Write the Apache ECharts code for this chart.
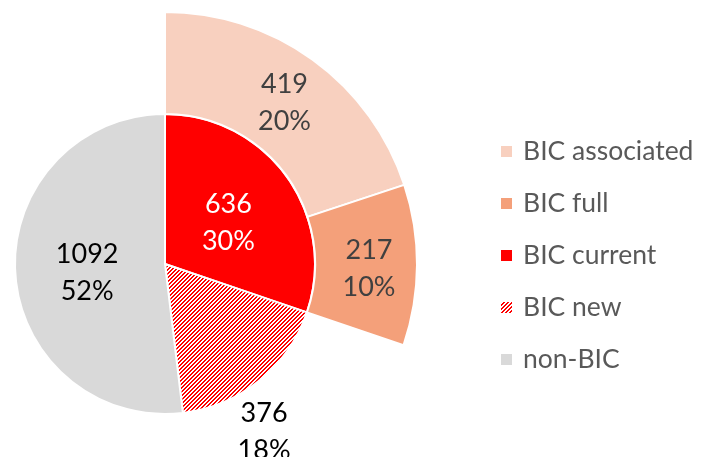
<!DOCTYPE html>
<html>
<head>
<meta charset="utf-8">
<script src="https://cdn.jsdelivr.net/npm/echarts@6/dist/echarts.min.js"></script>
<style>
html,body{margin:0;padding:0;background:#fff;}
#chart{width:707px;height:457px;}
</style>
</head>
<body>
<div id="chart"></div>
<script>
// Inner pie (shares of total)
var innerNames = ['BIC current', 'BIC new', 'non-BIC'];
var innerValues = [636, 376, 1092];
// Outer ring (breakdown over the BIC current sector)
var outerNames = ['BIC associated', 'BIC full'];
var outerValues = [419, 217];
var legendOrder = ['BIC associated', 'BIC full', 'BIC current', 'BIC new', 'non-BIC'];

var colors = {
  'BIC associated': '#F8D0BF',
  'BIC full': '#F4A07A',
  'BIC current': '#FF0000',
  'non-BIC': '#D9D9D9'
};

// hatch pattern for "BIC new"
var pc = document.createElement('canvas');
pc.width = 8; pc.height = 8;
var pctx = pc.getContext('2d');
pctx.fillStyle = '#ffffff';
pctx.fillRect(0, 0, 8, 8);
pctx.fillStyle = '#FF0000';
for (var y = 0; y < 8; y++) {
  for (var x = 0; x < 8; x++) {
    if (((x + y) % 4) < 2) pctx.fillRect(x, y, 1, 1);
  }
}
colors['BIC new'] = { image: pc, repeat: 'repeat' };

var labelColors = {
  'BIC associated': '#404040',
  'BIC full': '#404040',
  'BIC current': '#ffffff',
  'BIC new': '#000000',
  'non-BIC': '#000000'
};

var FONT = 'Lato, "Open Sans", sans-serif';
var CENTER = [165, 264];

function makeItem(name, value) {
  var item = {
    name: name,
    value: value,
    itemStyle: { color: colors[name], borderColor: '#ffffff', borderWidth: 2 },
    label: { color: labelColors[name], offset: [0, 4] }
  };
  if (name === 'BIC new') {
    item.label.offset = [50, 107];
  }
  return item;
}

var innerData = innerNames.map(function (n, i) { return makeItem(n, innerValues[i]); });
var outerData = outerNames.map(function (n, i) { return makeItem(n, outerValues[i]); });
// transparent remainder so the ring spans only the BIC current angle
var rest = innerValues[1] + innerValues[2];
outerData.push({
  name: '_rest',
  value: rest,
  itemStyle: { color: 'transparent', borderWidth: 0 },
  label: { show: false },
  emphasis: { disabled: true },
  tooltip: { show: false }
});

var labelCommon = {
  show: true,
  position: 'inside',
  formatter: '{c}\n{d}%',
  fontFamily: FONT,
  fontSize: 27,
  lineHeight: 37
};

var option = {
  animation: false,
  backgroundColor: '#ffffff',
  legend: {
    data: legendOrder,
    orient: 'vertical',
    left: 499,
    top: 138,
    padding: 0,
    icon: 'rect',
    itemWidth: 13,
    itemHeight: 13,
    itemGap: 25,
    textStyle: { fontFamily: FONT, fontSize: 26.5, color: '#595959', lineHeight: 26, padding: [0, 0, 0, 5] },
    selectedMode: false
  },
  series: [
    {
      type: 'pie',
      name: 'inner',
      center: CENTER,
      radius: [0, 150],
      startAngle: 90,
      clockwise: true,
      percentPrecision: 0,
      avoidLabelOverlap: false,
      label: labelCommon,
      labelLine: { show: false },
      emphasis: { disabled: true },
      data: innerData
    },
    {
      type: 'pie',
      name: 'outer',
      center: CENTER,
      radius: [150, 252],
      startAngle: 90,
      clockwise: true,
      percentPrecision: 0,
      avoidLabelOverlap: false,
      label: labelCommon,
      labelLine: { show: false },
      emphasis: { disabled: true },
      data: outerData
    }
  ]
};

var chart = echarts.init(document.getElementById('chart'), null, { renderer: 'canvas' });
chart.setOption(option);
</script>
</body>
</html>
